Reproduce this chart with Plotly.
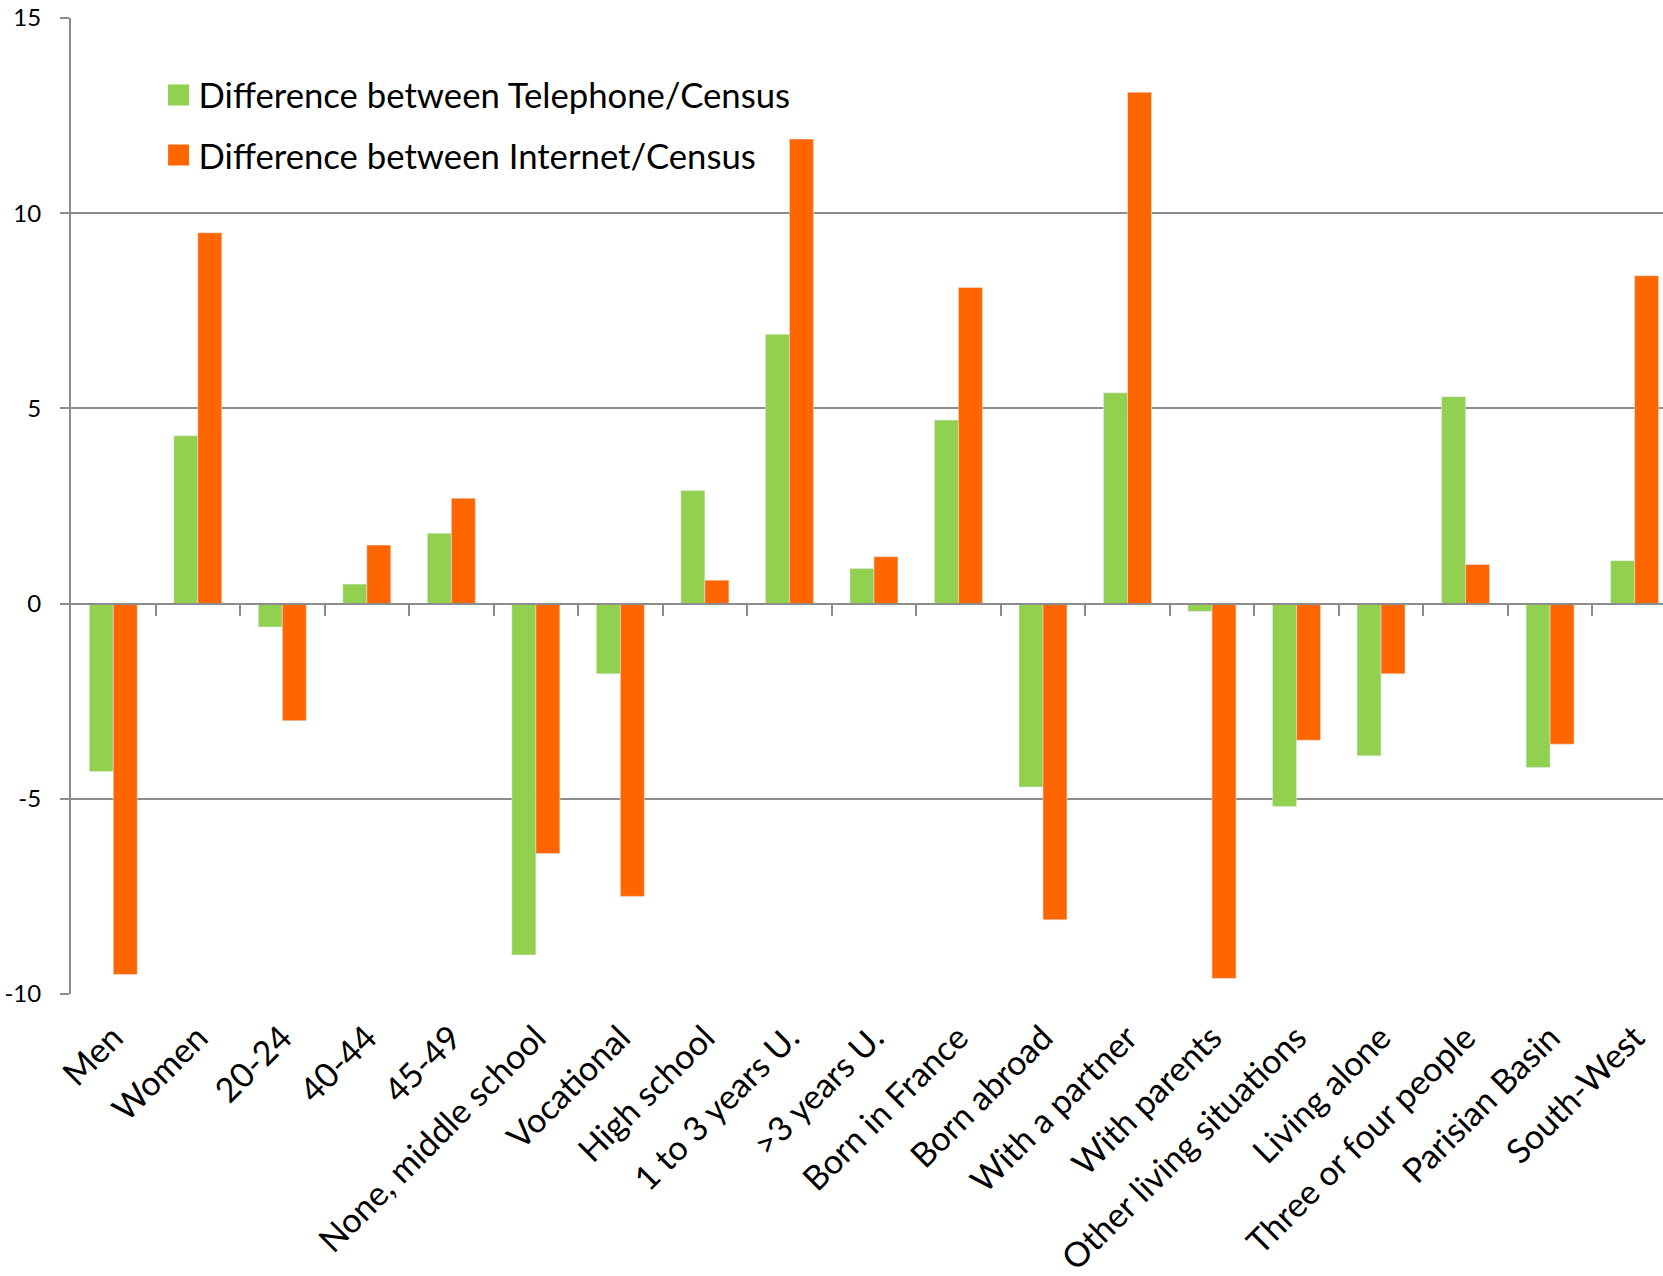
import plotly.graph_objects as go

# Survey composition gaps versus census, by respondent profile
categories = [
    "Men", "Women", "20-24", "40-44", "45-49", "None, middle school",
    "Vocational", "High school", "1 to 3 years U.", ">3 years U.",
    "Born in France", "Born abroad", "With a partner", "With parents",
    "Other living situations", "Living alone", "Three or four people",
    "Parisian Basin", "South-West",
]
telephone_diff = [-4.3, 4.3, -0.6, 0.5, 1.8, -9.0, -1.8, 2.9, 6.9, 0.9,
                  4.7, -4.7, 5.4, -0.2, -5.2, -3.9, 5.3, -4.2, 1.1]
internet_diff = [-9.5, 9.5, -3.0, 1.5, 2.7, -6.4, -7.5, 0.6, 11.9, 1.2,
                 8.1, -8.1, 13.1, -9.6, -3.5, -1.8, 1.0, -3.6, 8.4]
series_names = ["Difference between Telephone/Census",
                "Difference between Internet/Census"]
y_ticks = [-10, -5, 0, 5, 10, 15]

GREEN = "#92D050"
ORANGE = "#FF6600"
GRID = "#8c8c8c"
FONT = "Lato"

x_range = [-0.5, 18.336]

fig = go.Figure()

series = [(series_names[0], telephone_diff, GREEN, "tel"),
          (series_names[1], internet_diff, ORANGE, "int")]

for name, values, color, group in series:
    fig.add_trace(go.Bar(
        x=categories, y=values, name=name, marker_color=color,
        legendgroup=group, showlegend=False,
    ))

# Legend swatches (larger squares than the default bar swatch)
for name, values, color, group in series:
    fig.add_trace(go.Scatter(
        x=[None], y=[None], mode="markers", name=name, legendgroup=group,
        marker=dict(symbol="square", size=16, color=color,
                    line=dict(width=5, color=color)),
        hoverinfo="skip",
    ))

# Helper trace so the zero-line category axis is rendered
fig.add_trace(go.Scatter(x=[None], y=[None], xaxis="x2", yaxis="y",
                         showlegend=False, hoverinfo="skip"))

fig.update_layout(
    width=1663, height=1276,
    margin=dict(l=71, r=0, t=18, b=282, pad=0, autoexpand=False),
    paper_bgcolor="white", plot_bgcolor="white",
    barmode="group", bargap=0.432, bargroupgap=0,
    font=dict(family=FONT, color="black"),
    showlegend=True,
    legend=dict(
        x=0.055, y=0.951, xanchor="left", yanchor="top",
        bgcolor="rgba(0,0,0,0)", font=dict(family=FONT, size=34.7, color="black"),
        traceorder="grouped", tracegroupgap=12,
    ),
    xaxis=dict(
        type="category", range=x_range, tickangle=-45, automargin=False,
        showgrid=False, showline=False, ticks="", zeroline=False,
        tickfont=dict(family=FONT, size=34, color="black"),
        ticklabelstandoff=16,
    ),
    xaxis2=dict(
        overlaying="x", anchor="free", position=0.4, side="bottom",
        range=x_range, tickmode="array", automargin=False,
        tickvals=[k + 0.5 for k in range(len(categories) - 1)],
        ticks="outside", ticklen=11, tickwidth=2, tickcolor=GRID,
        showticklabels=False, showline=True, linecolor=GRID, linewidth=2,
        showgrid=False, zeroline=False,
    ),
    yaxis=dict(
        range=[-10, 15], tickmode="array", tickvals=y_ticks,
        ticktext=[str(v) for v in y_ticks], automargin=False,
        showgrid=True, gridcolor=GRID, gridwidth=1.5, zeroline=False,
        showline=True, linecolor=GRID, linewidth=2,
        ticks="outside", ticklen=9, tickwidth=1.5, tickcolor=GRID,
        tickfont=dict(family=FONT, size=24, color="black"),
        ticklabelstandoff=14,
    ),
)

fig.write_html("out.html")
